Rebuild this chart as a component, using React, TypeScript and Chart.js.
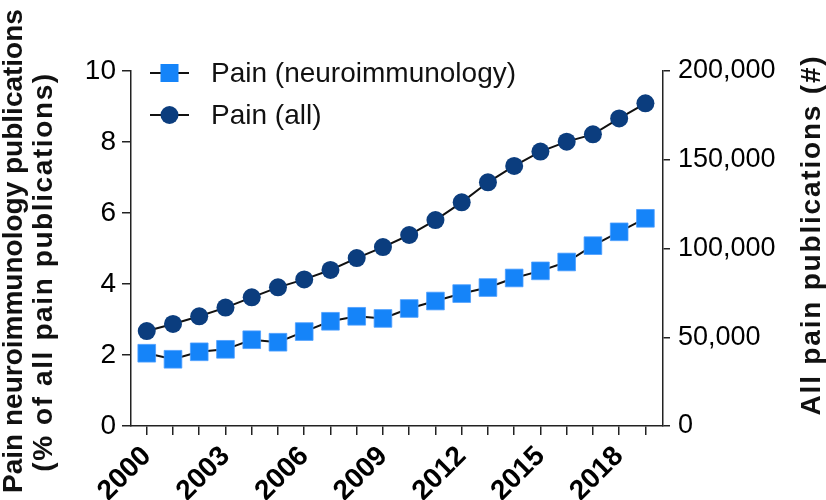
import React, { useEffect, useRef } from 'react';
import { Chart, registerables } from 'chart.js';

Chart.register(...registerables);

const years = [2000, 2001, 2002, 2003, 2004, 2005, 2006, 2007, 2008, 2009, 2010, 2011, 2012, 2013, 2014, 2015, 2016, 2017, 2018, 2019];
const neuroPercent = [2.05, 1.88, 2.09, 2.16, 2.43, 2.36, 2.66, 2.95, 3.09, 3.03, 3.31, 3.52, 3.73, 3.9, 4.17, 4.37, 4.62, 5.08, 5.47, 5.85];
const allPain = [53500, 57500, 61800, 66700, 72500, 78100, 82600, 87900, 94600, 100800, 107600, 116000, 126000, 137300, 146500, 154600, 160200, 164300, 173300, 181800];
const labeledYears = [2000, 2003, 2006, 2009, 2012, 2015, 2018];
const leftTicks = [0, 2, 4, 6, 8, 10];
const rightTicks = [0, 50000, 100000, 150000, 200000];
const seriesLabels = ['Pain (neuroimmunology)', 'Pain (all)'];
const leftTitle = ['Pain neuroimmunology publications', '(% of all pain publications)'];
const rightTitle = 'All pain publications (#)';

const FONT = '"Liberation Sans", Arial, Helvetica, sans-serif';
const SQUARE = '#1584F9';
const CIRCLE = '#0B3D7E';
const INK = '#111111';

const overlay = {
  id: 'overlay',
  afterDraw(chart: any) {
    const ctx = chart.ctx as CanvasRenderingContext2D;
    ctx.save();
    // legend
    const rows = [
      { y: 73, label: seriesLabels[0], kind: 'rect' },
      { y: 115, label: seriesLabels[1], kind: 'circle' },
    ];
    for (const r of rows) {
      ctx.strokeStyle = INK;
      ctx.lineWidth = 2;
      ctx.beginPath();
      ctx.moveTo(150, r.y);
      ctx.lineTo(189, r.y);
      ctx.stroke();
      if (r.kind === 'rect') {
        ctx.fillStyle = SQUARE;
        ctx.fillRect(169.5 - 9, r.y - 9, 18, 18);
      } else {
        ctx.fillStyle = CIRCLE;
        ctx.beginPath();
        ctx.arc(169.5, r.y, 9, 0, Math.PI * 2);
        ctx.fill();
      }
      ctx.fillStyle = INK;
      ctx.font = `28px ${FONT}`;
      ctx.textAlign = 'left';
      ctx.textBaseline = 'middle';
      ctx.fillText(r.label, 211, r.y + 1);
    }
    // left title
    ctx.font = `bold 28px ${FONT}`;
    ctx.textAlign = 'center';
    ctx.textBaseline = 'alphabetic';
    ctx.save();
    ctx.translate(22, 251);
    ctx.rotate(-Math.PI / 2);
    ctx.fillText(leftTitle[0], 0, 0);
    ctx.restore();
    ctx.save();
    (ctx as any).letterSpacing = '1.6px';
    ctx.translate(52, 272);
    ctx.rotate(-Math.PI / 2);
    ctx.fillText(leftTitle[1], 0, 0);
    ctx.restore();
    // right title
    ctx.save();
    (ctx as any).letterSpacing = '1.8px';
    ctx.translate(820, 235);
    ctx.rotate(-Math.PI / 2);
    ctx.fillText(rightTitle, 0, 0);
    ctx.restore();
    ctx.restore();
  },
};

export default function App() {
  const ref = useRef<HTMLCanvasElement>(null);
  useEffect(() => {
    document.body.style.margin = '0';
    const canvas = ref.current!;
    const chart = new Chart(canvas, {
      type: 'line',
      data: {
        datasets: [
          {
            label: seriesLabels[0],
            data: years.map((y, i) => ({ x: y, y: neuroPercent[i] })),
            yAxisID: 'y',
            borderColor: INK,
            borderWidth: 2,
            pointStyle: 'rect',
            pointRadius: 12.5,
            pointBackgroundColor: SQUARE,
            pointBorderColor: '#4D9EFF',
            pointBorderWidth: 0.8,
            clip: false,
          },
          {
            label: seriesLabels[1],
            data: years.map((y, i) => ({ x: y, y: allPain[i] })),
            yAxisID: 'y2',
            borderColor: INK,
            borderWidth: 2,
            pointStyle: 'circle',
            pointRadius: 9,
            pointBackgroundColor: CIRCLE,
            pointBorderColor: CIRCLE,
            pointBorderWidth: 0,
            clip: false,
          },
        ] as any,
      },
      options: {
        animation: false,
        responsive: false,
        layout: { padding: { top: 71, left: 0, right: 0, bottom: 0 } },
        plugins: { legend: { display: false }, tooltip: { enabled: false } },
        scales: {
          x: {
            type: 'linear',
            min: 1999.4,
            max: 2019.67,
            afterBuildTicks: (s: any) => {
              s.ticks = years.map((v) => ({ value: v }));
            },
            afterFit: (s: any) => {
              s.height = 74;
            },
            ticks: {
              autoSkip: false,
              maxRotation: 45,
              minRotation: 45,
              padding: 5,
              color: '#000',
              font: { family: FONT, size: 28, weight: 'bold' },
              callback: (v: any) => (labeledYears.includes(Number(v)) ? String(v) : ''),
            },
            grid: { drawOnChartArea: false, drawTicks: true, tickLength: 9, color: '#222', lineWidth: 1.5 },
            border: { display: true, color: '#222', width: 1.5 },
          },
          y: {
            position: 'left',
            min: 0,
            max: 10,
            afterBuildTicks: (s: any) => {
              s.ticks = leftTicks.map((v) => ({ value: v }));
            },
            afterFit: (s: any) => {
              s.width = 131;
            },
            ticks: { padding: 6, color: '#000', font: { family: FONT, size: 28 } },
            grid: { drawOnChartArea: false, drawTicks: true, tickLength: 9, color: '#222', lineWidth: 1.5 },
            border: { display: true, color: '#222', width: 1.5 },
          },
          y2: {
            position: 'right',
            min: 0,
            max: 200000,
            afterBuildTicks: (s: any) => {
              s.ticks = rightTicks.map((v) => ({ value: v }));
            },
            afterFit: (s: any) => {
              s.width = 163;
            },
            ticks: {
              padding: 8,
              color: '#000',
              font: { family: FONT, size: 27 },
              callback: (v: any) => Number(v).toLocaleString('en-US'),
            },
            grid: { drawOnChartArea: false, drawTicks: true, tickLength: 7, color: '#222', lineWidth: 1.5 },
            border: { display: true, color: '#222', width: 1.5 },
          },
        },
      } as any,
      plugins: [overlay],
    });
    return () => chart.destroy();
  }, []);
  return <canvas ref={ref} width={826} height={500} style={{ display: 'block' }} />;
}
